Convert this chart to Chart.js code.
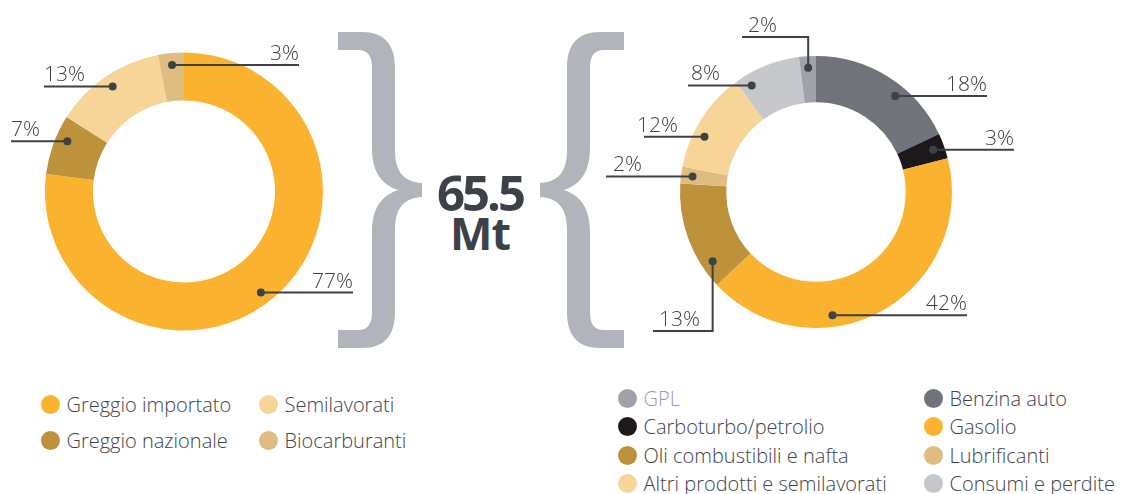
<!DOCTYPE html>
<html>
<head>
<meta charset="utf-8">
<script src="https://cdn.jsdelivr.net/npm/chart.js@4"></script>
<style>
  body { margin: 0; width: 1127px; height: 494px; background: #fff; position: relative; overflow: hidden;
         font-family: 'Open Sans', sans-serif; color: #41454b; }
  canvas { position: absolute; top: 0; }
  #leftChart { left: 0; }
  #rightChart { left: 600px; }
  #braces { position: absolute; left: 0; top: 0; }
  .total { position: absolute; left: 380px; width: 200px; text-align: center; font-weight: 700;
           line-height: 1; color: #3c4047; }
  .legend-item { position: absolute; display: flex; align-items: center; height: 24px;
                 font-size: 20px; font-weight: 300; white-space: nowrap; }
  .legend-item .dot { width: 19px; height: 19px; border-radius: 50%; margin-right: 7px; flex: none; }
</style>
</head>
<body>
<svg id="braces" width="1127" height="494"></svg>
<canvas id="leftChart" width="380" height="370"></canvas>
<canvas id="rightChart" width="527" height="370"></canvas>
<div class="total" id="totalValue" style="top:168px;font-size:49px;letter-spacing:-3px;"></div>
<div class="total" id="totalUnit" style="top:210px;font-size:45px;letter-spacing:-1px;"></div>
<div id="legends"></div>

<script>
// approvvigionamento (sinistra) e destinazione (destra), valori in %
const leftLabels = ['Greggio importato', 'Greggio nazionale', 'Semilavorati', 'Biocarburanti'];
const leftValues = [77, 7, 13, 3];

const rightLabels = ['Benzina auto', 'Carboturbo/petrolio', 'Gasolio', 'Oli combustibili e nafta',
                     'Lubrificanti', 'Altri prodotti e semilavorati', 'Consumi e perdite', 'GPL'];
const rightValues = [18, 3, 42, 13, 2, 12, 8, 2];

const totalValue = '65.5';
const totalUnit = 'Mt';

const leftColors = ['#fbb32f', '#be913b', '#f7d598', '#dfbd80'];
const rightColors = ['#70737a', '#1d181a', '#fbb32f', '#be913b', '#dfbd80', '#f7d598', '#c5c7cb', '#9fa2a8'];

// ordine nelle legende, a colonne
const leftLegendCols = [[0, 1], [2, 3]];
const rightLegendCols = [[7, 1, 3, 5], [0, 2, 4, 6]];

const inkColor = '#3d4148';

// posizione delle etichette: at = punto lungo lo spicchio, end = fine della linea,
// tx = x del testo, elbow = y del gomito (se c'e')
const leftLeaders = [
    {at: 0.515, end: 353, tx: 353, align: 'right'},
    {at: 0.64, end: 11, tx: 11, align: 'left'},
    {at: 0.5, end: 44, tx: 44, align: 'left'},
    {at: 0.5, end: 299, tx: 299, align: 'right'}
];
const rightLeaders = [
    {at: 0.61, end: 387, tx: 387, align: 'right'},
    {at: 0.5, end: 414, tx: 414, align: 'right'},
    {at: 0.64, end: 367, tx: 367, align: 'right'},
    {at: 0.2, elbow: 331, end: 53, tx: 100, align: 'right'},
    {at: 0.5, end: 6, tx: 13, align: 'left'},
    {at: 0.36, end: 44, tx: 37, align: 'left'},
    {at: 0.17, end: 88, tx: 91, align: 'left'},
    {at: 0.5, elbow: 37, end: 142, tx: 148, align: 'left'}
];

const leaderPlugin = {
    id: 'leaders',
    afterDatasetsDraw(chart, args, opts) {
        const ctx = chart.ctx;
        const meta = chart.getDatasetMeta(0);
        const values = chart.data.datasets[0].data;
        ctx.save();
        ctx.strokeStyle = inkColor;
        ctx.fillStyle = inkColor;
        ctx.lineWidth = 2;
        ctx.font = '300 21px "Open Sans"';
        ctx.textBaseline = 'alphabetic';
        opts.items.forEach(function (it, i) {
            const p = meta.data[i].getProps(['x', 'y', 'startAngle', 'endAngle', 'innerRadius', 'outerRadius'], true);
            const a = p.startAngle + (p.endAngle - p.startAngle) * it.at;
            const r = p.innerRadius + (p.outerRadius - p.innerRadius) * 0.75;
            const px = p.x + Math.cos(a) * r;
            const py = p.y + Math.sin(a) * r;
            const ly = it.elbow !== undefined ? it.elbow : py;
            ctx.beginPath();
            ctx.moveTo(px, py);
            if (it.elbow !== undefined) ctx.lineTo(px, ly);
            ctx.lineTo(it.end, ly);
            ctx.stroke();
            ctx.beginPath();
            ctx.arc(px, py, 4, 0, Math.PI * 2);
            ctx.fill();
            ctx.textAlign = it.align;
            ctx.fillText(values[i] + '%', it.tx, ly - 5);
        });
        ctx.restore();
    }
};

function make_donut(id, labels, values, colors, leaders, padding, cutout) {
    new Chart(document.getElementById(id).getContext('2d'), {
        type: 'doughnut',
        data: {
            labels: labels,
            datasets: [{data: values, backgroundColor: colors, borderWidth: 0}]
        },
        options: {
            responsive: false,
            animation: false,
            cutout: cutout,
            layout: {padding: padding},
            plugins: {
                legend: {display: false},
                tooltip: {enabled: false},
                leaders: {items: leaders}
            }
        },
        plugins: [leaderPlugin]
    });
}

make_donut('leftChart', leftLabels, leftValues, leftColors, leftLeaders,
    {left: 45, right: 57, top: 52.5, bottom: 39.5}, '65.5%');
make_donut('rightChart', rightLabels, rightValues, rightColors, rightLeaders,
    {left: 80, right: 175, top: 56, bottom: 42}, '66%');

document.getElementById('totalValue').textContent = totalValue;
document.getElementById('totalUnit').textContent = totalUnit;

// legende
function make_legend(labels, colors, cols, colX, rowY, textColors) {
    const box = document.getElementById('legends');
    cols.forEach(function (col, c) {
        col.forEach(function (idx, r) {
            const item = document.createElement('div');
            item.className = 'legend-item';
            item.style.left = (colX[c] - 9.5) + 'px';
            item.style.top = (rowY[r] - 12) + 'px';
            const dot = document.createElement('span');
            dot.className = 'dot';
            dot.style.background = colors[idx];
            const txt = document.createElement('span');
            txt.textContent = labels[idx];
            if (textColors && textColors[idx]) txt.style.color = textColors[idx];
            item.appendChild(dot);
            item.appendChild(txt);
            box.appendChild(item);
        });
    });
}
make_legend(leftLabels, leftColors, leftLegendCols, [50, 268], [404, 440]);
make_legend(rightLabels, rightColors, rightLegendCols, [627, 933], [398, 426, 455, 483], {7: '#9a9da3'});

// parentesi graffe
function brace_path(m) {
    // m: funzione che specchia la x
    const pts = [
        ['M', 338, 32], ['L', 362, 32], ['C', 384, 32, 395, 44, 395, 68], ['L', 395, 150],
        ['C', 395, 172, 404, 182, 422, 183], ['L', 422, 197], ['C', 404, 198, 395, 208, 395, 230],
        ['L', 395, 312], ['C', 395, 336, 384, 348, 362, 348], ['L', 338, 348], ['L', 338, 330],
        ['L', 358, 330], ['C', 368, 330, 372, 324, 372, 312], ['L', 372, 232],
        ['C', 372, 210, 380, 196, 398, 190], ['C', 380, 184, 372, 170, 372, 148], ['L', 372, 68],
        ['C', 372, 56, 368, 50, 358, 50], ['L', 338, 50]
    ];
    let d = '';
    pts.forEach(function (p) {
        d += p[0];
        for (let k = 1; k < p.length; k += 2) d += ' ' + m(p[k]) + ' ' + p[k + 1];
        d += ' ';
    });
    return d + 'Z';
}
const svg = document.getElementById('braces');
svg.innerHTML =
    '<path fill="#b1b5bb" d="' + brace_path(function (x) { return x; }) + '"/>' +
    '<path fill="#b1b5bb" d="' + brace_path(function (x) { return 962 - x; }) + '"/>';
</script>
</body>
</html>
